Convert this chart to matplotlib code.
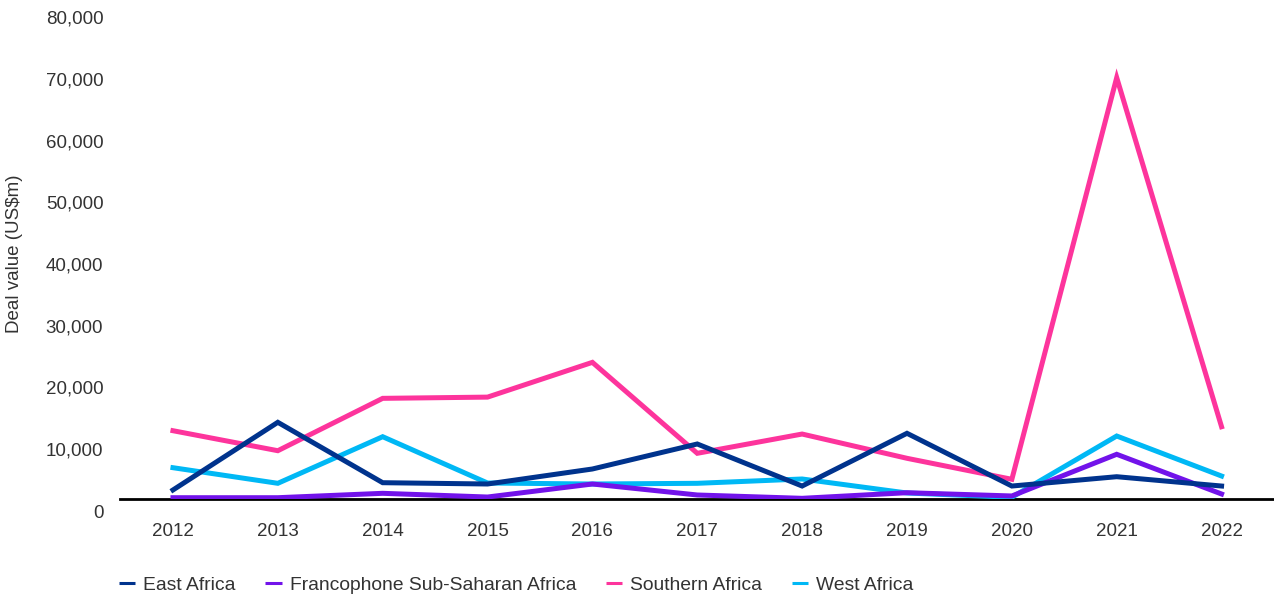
import numpy as np
import matplotlib
matplotlib.use("Agg")
import matplotlib.pyplot as plt
import matplotlib.ticker as mtick
from matplotlib.lines import Line2D
from matplotlib.transforms import ScaledTranslation

#_________________________________________
# DATA (deal value, US$m)
#_________________________________________
years = [2012, 2013, 2014, 2015, 2016, 2017, 2018, 2019, 2020, 2021, 2022]

east_africa = [1460, 12420, 2640, 2430, 4860, 8910, 2100, 10640, 2100, 3610, 2100]
francophone = [210, 210, 920, 320, 2430, 650, 110, 1020, 490, 7240, 810]
southern_africa = [11060, 7820, 16300, 16500, 22130, 7400, 10520, 6590, 3190, 68240, 11700]
west_africa = [5070, 2540, 10090, 2590, 2430, 2540, 3240, 970, 280, 10200, 3720]

series_names = ["East Africa", "Francophone Sub-Saharan Africa",
                "Southern Africa", "West Africa"]
series_values = [east_africa, francophone, southern_africa, west_africa]
colors = ["#00338D", "#7213EA", "#FD349C", "#00B8F5"]

y_ticks = [0, 10000, 20000, 30000, 40000, 50000, 60000, 70000, 80000]

#_________________________________________
# PLOT
#_________________________________________
plt.rcParams["font.family"] = ["Liberation Sans", "DejaVu Sans"]
text_color = "#333333"
font_size = 13.5

fig = plt.figure(figsize=(12.74, 5.99), dpi=100)
ax = fig.add_axes([120 / 1274, 100 / 599, 1 - 120 / 1274, 494 / 599])

# draw in reverse so East Africa sits on top like the original
for name, vals, col in list(zip(series_names, series_values, colors))[::-1]:
    ax.plot(years, vals, color=col, lw=3.6, solid_joinstyle="miter")

ax.set_xlim(years[0] - 0.505, years[-1] + 0.5)
ax.set_ylim(0, 80000)
ax.set_xticks(years)
ax.set_yticks(y_ticks)
ax.yaxis.set_major_formatter(mtick.StrMethodFormatter("{x:,.0f}"))

for s in ["top", "right", "left"]:
    ax.spines[s].set_visible(False)
ax.spines["bottom"].set_color("black")
ax.spines["bottom"].set_linewidth(2)
ax.spines["bottom"].set_zorder(1)

ax.tick_params(axis="both", length=0, labelsize=font_size, labelcolor=text_color)
ax.tick_params(axis="y", pad=12)
ax.tick_params(axis="x", pad=17)

# y labels sit a little below their value in the original
offset = ScaledTranslation(0, -12 / 100, fig.dpi_scale_trans)
for lab in ax.get_yticklabels():
    lab.set_transform(lab.get_transform() + offset)

fig.text(15 / 1274, 1 - 254 / 599, "Deal value (US$m)", rotation=90,
         ha="center", va="center", fontsize=13.5, color=text_color)

# legend with short thin keys
handles = [Line2D([], [], color=c, lw=2.2, solid_capstyle="butt") for c in colors]
fig.legend(handles, series_names, loc="center left",
           bbox_to_anchor=(119 / 1274, 1 - 585 / 599), ncol=4, frameon=False,
           fontsize=13.9, labelcolor=text_color, handlelength=0.85,
           handletextpad=0.4, columnspacing=1.55, borderpad=0, borderaxespad=0)

plt.savefig("out.png", dpi=100)
